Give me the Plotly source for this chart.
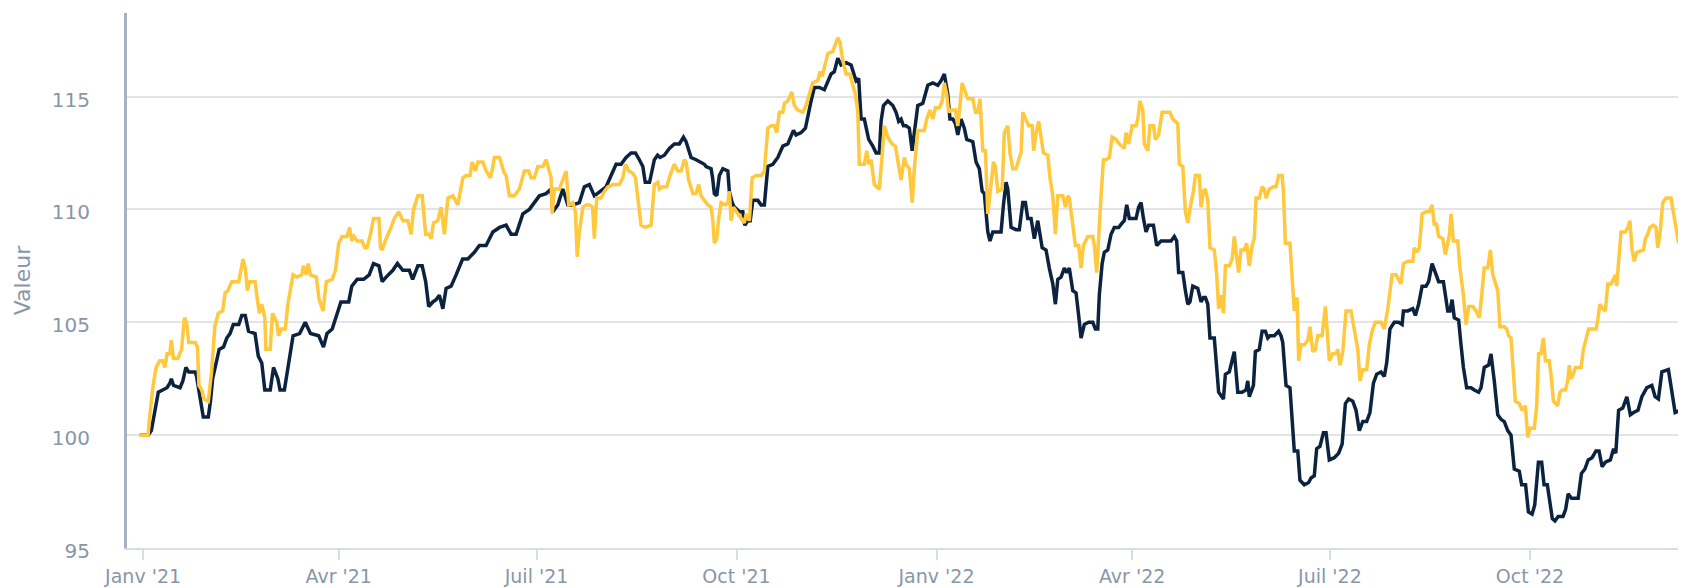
import pandas as pd
import plotly.graph_objects as go

# ---- data (days since 2021-01-01, index values) ----
navy_days = [-1.5, 2.3, 3.8, 5.4, 7, 9, 11, 12.3, 13, 14, 17, 18.3, 19.7, 21, 24, 24.6, 26, 27.7, 30, 31, 32, 34, 35, 37, 38.5, 40, 41.5, 44, 45.4, 47, 48.5, 51.5, 53, 54.6, 56, 58.5, 60, 62, 63, 65, 67.7, 69, 72, 74.6, 77, 80.8, 83, 84.6, 87, 89, 91, 94.6, 96, 98.5, 101.5, 104, 106, 108.5, 110,
             111.8, 114.9, 117, 119.5, 122.5, 124, 126.4, 128.4, 130, 131.4, 133.3, 134.8, 136.3, 137.9, 139.4, 141.7, 144, 147, 149.4, 152.4, 154.7, 157.8, 160.9, 164, 167, 169.3, 171.6, 174.7, 177.7, 180, 182.3, 185.4, 187.7, 188.5, 190.8, 193.1, 195.4, 197.7, 200.7, 203, 205.3, 207.6, 210, 213, 215.3, 217.6, 219.9, 222.2, 224.5, 226.5, 228.3, 229.9, 231,
             233, 235.2, 236.7, 237.8, 239.8, 242.1, 244.4, 246.7, 248.6, 249.8, 252.1, 254.4, 256.7, 258.2, 259, 261.3, 262, 262.8, 263.9, 265.1, 266.7, 269, 269.7, 271, 272, 274.3, 275.9, 276.8, 278.2, 279.3, 280.5, 282.8, 284.3, 285.8, 287.4, 289.7, 292, 294.3, 296.6, 298.1, 299.2, 300.4, 302.7, 304.7, 305.8, 307.3, 308.8, 311.1, 313.4, 315, 316.5, 318, 319.6, 321.1, 323.4, 325.7, 326.8, 328, 329.2, 330.3, 331.8, 332.9, 333.8, 335.7, 337.2, 338.7, 339.5, 340.6, 342.6, 344.9, 346.4, 347.6, 348.7, 349.8,
             351, 352.5, 353.8, 354.8, 356.4, 358.7, 361, 363.3, 365.6, 367.1, 368.6, 370.2, 371.2, 372.5, 373.7, 374.8, 376.3, 377.8, 378.9, 381.7, 383.2, 384.7, 386, 387, 387.8, 388.6, 389.6, 390.9, 393.2, 394.7, 395.8, 397, 397.8, 399.3, 401.6, 403.1, 404.7, 405.9, 407, 408.5, 410, 411.6, 413.6, 415.4, 416.9, 418.5, 419.7, 420.8, 422.3, 423.8, 424.9, 426.1, 427.7, 429.2, 430.4, 431.5, 433, 435, 436.9, 438.1, 439.2, 439.9, 441.2, 442.2, 443.8, 445.3, 446.8, 448.8, 450.4, 451.4, 452.5, 453.7, 455.3, 456.8, 458, 459.1, 460.2, 461.4, 462.6, 464.8, 466.3, 468.3,
             470.6, 472.9, 474.4, 475.5, 476.4, 478.3, 479.5, 480.6, 481.6, 482.9, 485.2, 486.7, 487.8, 488.7, 489.8, 490.8, 492.8, 493.6, 494.8, 497, 497.9, 499.7, 501, 502, 502.8, 503.6, 505.6, 507.4, 508.2, 508.9, 510.8, 511.7, 513.5, 514.8, 516.3, 517.4, 518.4, 520.4, 522.4, 523.5, 524.3, 525.8, 527.6, 528.6, 529.6, 531.2, 532.2, 534.2, 536.2, 537.3, 538.8, 539.9, 541.4, 543, 544.2, 545.7, 548, 550, 551.6, 553.1, 554.6, 556.5, 558, 559.5, 561.1, 562.9, 564.4, 566, 567.5, 569.5, 571, 572.1, 573.6, 575.6, 577.6, 579.2, 579.8, 581.8, 584.1, 585.3, 586.8, 588.4,
             590.2, 591.4, 593, 594.5, 596, 598.2, 599.1, 600.2, 601.2, 602.2, 603.2, 605.2, 606.3, 607.4, 608.9, 610.9, 612.4, 614.4, 615.5, 617, 619, 620.1, 621.6, 623.2, 624.7, 626.2, 627.8, 629.3, 630.8, 633.1, 634.2, 636, 637.3, 639, 640.2, 641.9, 643.4, 644.5, 646, 647, 648.3, 649.5, 651, 653.2, 654.4, 655.6, 657.1, 660.2, 661.7, 663.3, 664.8, 666.6, 668.4, 669.8, 671.2, 672.7, 675, 676.5, 677.5, 678.8, 680.7, 682.6, 684.2, 685.7, 687.7, 689.5, 691.8, 694.1, 695.6, 697.1, 698.7, 701.7, 703.3, 704.8, 707.1, 709, 712]
navy_vals = [100, 100, 100.2, 101, 101.9, 102.0, 102.1, 102.3, 102.5, 102.2, 102.1, 102.4, 103.0, 102.8, 102.8, 102.6, 101.8, 100.8, 100.8, 101.5, 102.5, 103.5, 103.8, 103.9, 104.3, 104.5, 104.9, 104.9, 105.3, 105.3, 104.6, 104.5, 103.5, 103.2, 102.0, 102.0, 103.0, 102.5, 102.0, 102.0, 103.5, 104.4, 104.5, 105.0, 104.5, 104.4, 103.9, 104.5, 104.7, 105.3, 105.9, 105.9, 106.6, 106.9, 106.9, 107.1, 107.6, 107.5, 106.8,
             107.0, 107.3, 107.6, 107.3, 107.3, 106.9, 107.5, 107.5, 106.8, 105.7, 105.9, 106.0, 106.2, 105.6, 106.5, 106.6, 107.1, 107.8, 107.8, 108.1, 108.4, 108.4, 109.0, 109.2, 109.3, 108.9, 108.9, 109.8, 110.0, 110.3, 110.6, 110.7, 110.9, 109.9, 110.2, 110.9, 110.2, 110.2, 110.3, 111.0, 111.1, 110.6, 110.8, 111.0, 111.5, 112.0, 112.0, 112.3, 112.5, 112.5, 112.2, 111.9, 111.2,
             111.2, 112.2, 112.4, 112.3, 112.4, 112.7, 112.9, 112.9, 113.2, 113.0, 112.3, 112.2, 112.1, 112.0, 111.9, 111.8, 111.4, 110.7, 110.6, 111.5, 111.8, 111.7, 110.8, 110.3, 110.1, 109.9, 109.9, 109.3, 109.5, 109.5, 110.4, 110.4, 110.2, 110.2, 111.9, 112.0, 112.3, 112.8, 112.9, 113.2, 113.5, 113.3, 113.4, 113.6, 114.2, 114.8, 115.4, 115.4, 115.3, 115.7, 116.0, 116.1, 116.7, 116.4, 116.5, 116.4, 116.0, 115.7, 115.8, 114.0, 114.0, 113.4, 113.1, 112.8, 112.5, 112.5, 113.9, 114.6, 114.8, 114.6, 114.3, 113.9, 114.0, 113.7,
             113.7, 113.6, 112.6, 113.4, 114.6, 114.7, 115.5, 115.6, 115.5, 115.7, 116.0, 115.1, 114.0, 114.0, 113.8, 113.3, 114.0, 113.6, 113.1, 113.0, 112.1, 111.8, 110.8, 110.7, 109.9, 109.0, 108.6, 109.0, 109.0, 109.0, 110.2, 111.2, 110.9, 109.2, 109.1, 109.1, 110.3, 110.3, 109.6, 109.6, 108.7, 109.5, 108.3, 108.2, 107.4, 106.7, 105.8, 106.9, 107.0, 107.4, 107.2, 107.4, 106.4, 106.3, 105.3, 104.3, 104.9, 105.0, 105.0, 104.7, 104.7, 106.2, 107.6, 108.1, 108.2, 108.9, 109.2, 109.2, 109.4, 109.5, 110.2, 109.6, 109.6, 109.6, 110.1, 110.3, 109.6, 109.0, 109.3, 109.3, 108.4, 108.6,
             108.6, 108.6, 108.8, 108.6, 107.2, 107.2, 106.4, 105.8, 105.9, 106.6, 106.5, 105.9, 106.1, 106.1, 105.8, 104.3, 104.3, 103.3, 101.9, 101.6, 102.7, 102.8, 103.3, 103.7, 102.8, 101.9, 101.9, 102.0, 102.4, 101.7, 102.2, 103.7, 103.8, 104.6, 104.6, 104.3, 104.4, 104.4, 104.6, 104.4, 104.1, 102.2, 102.1, 100.7, 99.3, 99.3, 98.0, 97.8, 97.9, 98.1, 98.2, 99.4, 99.5, 100.1, 100.1, 98.9, 99.0, 99.2, 99.6, 101.4, 101.6, 101.5, 101.1, 100.2, 100.6, 100.6, 101.0, 102.3, 102.7, 102.8, 102.6, 103.2, 104.7, 105.0, 105.0, 104.9, 105.5, 105.5, 105.6, 105.3, 105.8, 106.6,
             106.6, 106.8, 107.6, 107.2, 106.8, 106.8, 106.1, 105.5, 105.5, 106.0, 105.2, 105.1, 104.0, 103.0, 102.1, 102.1, 102.0, 101.9, 102.1, 103.0, 103.1, 103.6, 102.4, 100.9, 100.7, 100.6, 100.2, 100.0, 98.5, 98.4, 97.8, 97.8, 96.6, 96.5, 96.9, 98.8, 98.8, 97.8, 97.8, 97.1, 96.3, 96.2, 96.4, 96.4, 96.7, 97.4, 97.2, 97.2, 98.3, 98.5, 98.9, 99.0, 99.3, 99.3, 98.6, 98.8, 98.9, 99.4, 99.2, 101.1, 101.2, 101.7, 100.9, 101.0, 101.1, 101.7, 102.1, 102.2, 101.7, 101.6, 102.8, 102.9, 101.9, 101.0, 101.1, 101.1, 101.1]

gold_days = [-1.5, 2.3, 3, 4.6, 6, 7.7, 9, 10, 11, 12.3, 13, 14, 16, 17.7, 19, 20, 21, 24, 25, 25.7, 27, 28, 30, 31.5, 33, 34.6, 36.6, 37.7, 39, 40.8, 44, 45, 46, 47, 48, 49, 51.5, 52.6, 53.5, 54.6, 56, 56.5, 58.5, 59.5, 61.5, 62.3, 63.5, 65.4, 66.6, 67.7, 69, 70.8, 73, 73.8, 75, 76, 77, 79.7, 81, 82.8, 84.3, 87, 88.5, 90, 91.5, 93.8, 95, 96, 97, 98.5, 100.8, 102, 103, 104.6, 106, 108.5, 109.2, 110,
             111.8, 114.1, 115.6, 117.6, 119.5, 121.8, 123.3, 124.4, 126.4, 128.4, 130, 131.4, 132.5, 133.6, 135.6, 137.1, 138.6, 140.2, 142.5, 144.8, 147.1, 148.6, 150.4, 151.4, 152.9, 154, 156.3, 157.8, 159.8, 160.9, 161.6, 164, 165.8, 167, 168.5, 170.8, 173.1, 175.4, 177.4, 178.5, 180, 181.6, 183.9, 185.4, 186.6, 187.7, 188.2, 189.2, 191.5, 193.1, 194.6, 195.8, 197.7, 198.9, 199.7, 200.7, 202.3, 203.8, 205.3, 206.8, 207.6, 208.7, 210.7, 212.2, 213.8, 216.1, 219.1, 220.7, 221.9, 223.4, 225.3, 226.5, 227.6, 229.1, 231,
             233.7, 235.2, 236.8, 237.5, 239, 240.9, 242.4, 244.4, 246, 247.5, 249, 249.8, 251, 252.9, 254.4, 255.6, 256.7, 258.2, 259.8, 261.3, 262.1, 262.8, 263.9, 264.8, 265.9, 267.9, 269, 269.7, 270.5, 271.6, 273.6, 275.1, 276.6, 277.4, 278.9, 280.2, 282, 284.3, 285.8, 287.4, 288.9, 290.4, 291.5, 292.7, 294.3, 295, 296.6, 298.4, 299.6, 301.2, 303.5, 305, 306.5, 308, 310.4, 311.4, 312.4, 313.4, 315, 317.3, 318.5, 319.6, 320.6, 321.9, 323.4, 325.2, 326.5, 327.7, 328.8, 329.5, 331.8, 332.9, 333.8, 334.9, 336.4, 338.7, 340, 341, 342.6, 344.6, 346.1, 347.2, 348.7, 350.2,
             351, 352.5, 353.8, 354.8, 356.4, 358.4, 359.4, 360.5, 362, 363.3, 364.5, 366.3, 367.6, 368.6, 369.7, 370.6, 371.7, 373.7, 374.8, 375.8, 376.8, 378.3, 379.4, 381.7, 382.9, 384, 385, 386.3, 387.5, 388.6, 389.6, 391.2, 392.1, 393.2, 395.2, 396.2, 397.8, 398.8, 400.1, 401.6, 403.1, 403.9, 404.7, 406.2, 407.4, 409, 409.7, 410.8, 412, 413.1, 414.2, 416.2, 417.2, 418.5, 419.7, 420.8, 423.1, 424.3, 425.4, 426.1, 427.7, 428.9, 430.4, 431.5, 432.6, 434.6, 436.9, 437.6, 438.7, 439.9, 440.7, 441.8, 443, 444.5, 445.8, 447.6, 449.1, 451.4, 452.2, 453.4, 455, 456.8, 457.6, 458.6, 459.9, 460.6, 462.2, 463.2, 464.8, 465.7, 467.2, 468.8,
             470.6, 472.4, 473.7, 474.9, 476, 476.7, 478.3, 479.5, 480.6, 482.1, 483.2, 484.1, 485.9, 486.7, 487.8, 488.7, 489.8, 490.8, 492.8, 493.9, 494.8, 495.9, 497, 497.9, 499.7, 501, 502, 502.8, 504, 505.1, 506.6, 507.7, 508.9, 510.2, 511.2, 512, 513.5, 514.8, 515.8, 516.6, 518.1, 520, 521.2, 522.4, 524, 524.6, 525.5, 527.6, 528.6, 529.6, 530.9, 531.6, 532.7, 534.2, 535.8, 536.8, 538.1, 539.3, 540.4, 542.4, 543.9, 545.7, 547.3, 548.8, 549.6, 550.6, 551.9, 553.4, 555.7, 557.2, 558.8, 559.8, 561.1, 562.9, 564.1, 565.4, 566.9, 569.5, 571, 572.6, 574.6, 576.4, 578.7, 579.8, 581.8, 584.1, 584.8, 586, 587.1, 588.4,
             590.2, 591.7, 593, 594, 595, 596, 597.9, 599.1, 600.2, 601, 601.7, 602.8, 604.8, 605.8, 607.4, 608.6, 609.8, 611.7, 613.2, 614.7, 615.5, 617, 618.6, 619.8, 620.9, 621.6, 623.2, 624.2, 626.2, 627.3, 628.2, 629.3, 630.4, 631.3, 633.1, 634.4, 635.9, 637, 638, 640, 641.1, 642, 643.1, 644.2, 645.1, 646.9, 647.7, 648.8, 650.8, 651.8, 652.8, 654.3, 655.4, 656.1, 656.9, 658, 658.9, 661.5, 662.6, 663.8, 665, 666.9, 668.4, 669.2, 670.2, 671.5, 672.7, 673.8, 675.3, 676.4, 677.3, 677.9, 679.1, 679.9, 681.9, 683, 684, 685, 686, 687.1, 690.2, 691.1, 692.2, 693.2, 694.8, 696, 696.8, 697.8, 699.1, 700.6, 702.9, 704, 705.2, 706.4, 707.5, 709.8, 712]
gold_vals = [100, 100, 100.8, 102.2, 103.0, 103.3, 103.3, 103.0, 103.6, 103.6, 104.2, 103.4, 103.4, 103.8, 105.2, 105.0, 104.1, 104.1, 103.9, 102.2, 102.0, 101.6, 101.5, 102.8, 104.8, 105.4, 105.5, 106.3, 106.4, 106.8, 106.8, 107.3, 107.8, 107.4, 106.4, 106.8, 106.8, 106.0, 105.4, 105.8, 105.2, 103.8, 103.8, 105.4, 105.0, 104.4, 104.7, 104.7, 105.8, 106.4, 107.1, 107.0, 107.1, 107.5, 107.1, 107.6, 107.1, 107.0, 106.0, 105.5, 106.8, 106.9, 107.3, 108.5, 108.8, 108.8, 109.2, 108.6, 108.8, 108.6, 108.6, 108.3, 108.3, 108.9, 109.6, 109.6, 108.3, 108.2,
             108.7, 109.2, 109.6, 109.9, 109.5, 109.5, 108.9, 110.0, 110.6, 110.6, 108.9, 108.9, 108.7, 109.4, 109.5, 110.1, 108.9, 110.5, 110.6, 110.2, 111.4, 111.5, 111.5, 112.1, 111.7, 112.1, 112.1, 111.7, 111.4, 111.9, 112.3, 112.3, 111.7, 111.5, 110.6, 110.6, 110.9, 111.7, 111.7, 111.4, 111.4, 111.9, 111.9, 112.2, 111.7, 111.4, 109.8, 110.9, 110.9, 111.3, 111.7, 110.2, 110.3, 109.9, 107.9, 109.0, 110.1, 110.2, 110.2, 110.1, 108.7, 110.5, 110.5, 110.8, 111.0, 111.1, 111.1, 111.4, 112.0, 111.7, 111.6, 111.4, 110.5, 109.3, 109.2,
             109.3, 111.1, 111.2, 110.9, 111.0, 111.0, 111.5, 112.0, 111.7, 111.7, 112.2, 112.1, 111.3, 110.7, 110.7, 111.1, 110.6, 110.4, 110.2, 110.1, 109.5, 108.5, 108.7, 109.6, 110.3, 110.2, 110.3, 110.8, 109.5, 110.1, 109.8, 109.6, 109.4, 109.8, 109.5, 111.4, 111.5, 111.5, 111.7, 113.6, 113.7, 113.7, 113.4, 114.3, 114.3, 114.7, 114.8, 115.2, 114.6, 114.4, 114.3, 114.6, 115.1, 115.6, 115.7, 116.1, 115.9, 116.3, 116.9, 117.0, 117.3, 117.6, 117.4, 116.6, 116.0, 116.0, 115.5, 115.1, 114.3, 112.0, 112.0, 112.6, 112.0, 112.2, 111.1, 110.9, 112.4, 113.7, 113.2, 112.9, 112.8, 112.1, 111.3, 112.3,
             112.0, 111.8, 110.3, 111.8, 113.5, 113.5, 113.5, 114.0, 114.4, 114.0, 114.5, 114.5, 114.8, 115.6, 115.1, 114.3, 114.4, 114.4, 113.7, 114.6, 115.6, 115.2, 114.9, 114.9, 114.3, 114.3, 114.9, 112.6, 112.6, 109.8, 110.8, 112.1, 111.9, 110.8, 110.9, 113.4, 113.7, 112.5, 111.8, 111.8, 112.3, 112.5, 114.3, 114.0, 113.7, 113.7, 112.6, 113.4, 113.9, 113.2, 112.5, 112.4, 111.4, 110.6, 108.9, 110.6, 110.6, 110.1, 110.6, 110.5, 109.2, 108.4, 108.4, 107.4, 108.4, 108.8, 108.8, 108.4, 107.2, 109.6, 110.6, 112.2, 112.2, 112.3, 113.2, 113.1, 112.9, 112.7, 113.4, 112.9, 113.7, 113.7, 114.0, 114.8, 114.4, 112.9, 112.6, 113.7, 113.7, 113.1, 113.3, 114.3,
             114.3, 114.3, 114.0, 113.9, 113.8, 112.0, 111.9, 109.9, 109.4, 110.3, 110.8, 111.5, 111.5, 110.1, 110.8, 110.9, 110.4, 108.3, 108.2, 107.1, 105.6, 106.2, 105.4, 107.5, 107.5, 107.8, 108.8, 108.1, 107.2, 108.2, 108.2, 108.5, 107.5, 108.4, 108.7, 110.5, 110.5, 111.0, 110.9, 110.5, 110.9, 111.0, 111.0, 111.5, 111.5, 110.8, 108.5, 108.5, 106.8, 105.5, 106.1, 103.3, 104.0, 104.0, 104.2, 104.8, 103.7, 103.8, 104.4, 104.4, 105.7, 103.3, 103.6, 103.6, 103.8, 103.1, 103.7, 105.5, 105.5, 104.7, 103.8, 102.4, 102.9, 102.9, 104.0, 104.6, 105.0, 105.0, 104.7, 105.6, 107.1, 107.1, 106.7, 107.6, 107.7, 107.7, 108.3, 108.1, 108.3, 109.8,
             109.9, 109.9, 110.2, 109.3, 109.4, 108.8, 108.7, 108.0, 108.6, 108.9, 109.8, 108.6, 108.6, 107.4, 106.2, 104.9, 105.7, 105.7, 105.5, 105.2, 105.9, 107.4, 107.4, 108.2, 107.1, 106.9, 106.4, 104.8, 104.8, 104.7, 104.4, 104.3, 102.8, 101.5, 101.4, 101.1, 101.3, 99.9, 100.3, 100.3, 101.3, 103.6, 103.6, 104.3, 103.3, 103.3, 102.7, 101.5, 101.3, 101.9, 102.0, 102.0, 102.4, 103.1, 102.5, 102.7, 103.0, 103.0, 103.8, 104.2, 104.7, 104.7, 104.7, 105.1, 105.8, 105.6, 105.5, 106.7, 106.7, 106.9, 107.1, 106.6, 108.4, 109.0, 109.0, 109.2, 109.5, 108.2, 107.7, 108.1, 108.2, 108.7, 108.9, 109.2, 109.3, 109.2, 108.3, 108.9, 110.3, 110.5, 110.5, 109.8, 109.2, 108.5, 108.9, 109.0, 109.0]

tick_dates = ["2021-01-01", "2021-04-01", "2021-07-01", "2021-10-01",
              "2022-01-01", "2022-04-01", "2022-07-01", "2022-10-01"]
tick_labels = ["Janv '21", "Avr '21", "Juil '21", "Oct '21",
               "Janv '22", "Avr '22", "Juil '22", "Oct '22"]
y_ticks = [95, 100, 105, 110, 115]

base = pd.Timestamp("2021-01-01")
navy_x = base + pd.to_timedelta(navy_days, unit="D")
gold_x = base + pd.to_timedelta(gold_days, unit="D")

fig = go.Figure()
fig.add_trace(go.Scatter(x=navy_x, y=navy_vals, mode="lines", name="Série 1",
                         line=dict(color="#0c2340", width=3.5)))
fig.add_trace(go.Scatter(x=gold_x, y=gold_vals, mode="lines", name="Série 2",
                         line=dict(color="#ffc83d", width=3.5)))

x_start = base + pd.Timedelta(days=-7.4)
x_end = base + pd.Timedelta(days=709.8)

# page body adds an 8px offset, so the figure is 8px smaller than the window
fig.update_layout(
    width=1678, height=580,
    margin=dict(l=119, r=0, t=5, b=40),
    paper_bgcolor="white", plot_bgcolor="white",
    showlegend=False,
    font=dict(family="DejaVu Sans", color="#8896a8"),
)
fig.update_xaxes(
    range=[x_start, x_end], automargin=False,
    tickvals=tick_dates, ticktext=tick_labels,
    tickfont=dict(size=19, color="#8896a8"),
    showgrid=False, zeroline=False,
    showline=True, linecolor="#d5dde6", linewidth=2,
    ticks="outside", ticklen=10, tickwidth=2, tickcolor="#d5dde6",
)
fig.update_yaxes(
    range=[95, 118.7], automargin=False,
    tickvals=y_ticks,
    tickfont=dict(size=20, color="#8896a8"),
    showgrid=True, gridcolor="#e4e4e4", gridwidth=1.5,
    zeroline=False,
    showline=True, linecolor="#a5b3c1", linewidth=3,
    ticks="", ticklabelstandoff=30, ticklabelshift=3,
    title=dict(text="Valeur", font=dict(size=22, color="#8896a8"), standoff=16),
)

fig.write_html("out.html")
